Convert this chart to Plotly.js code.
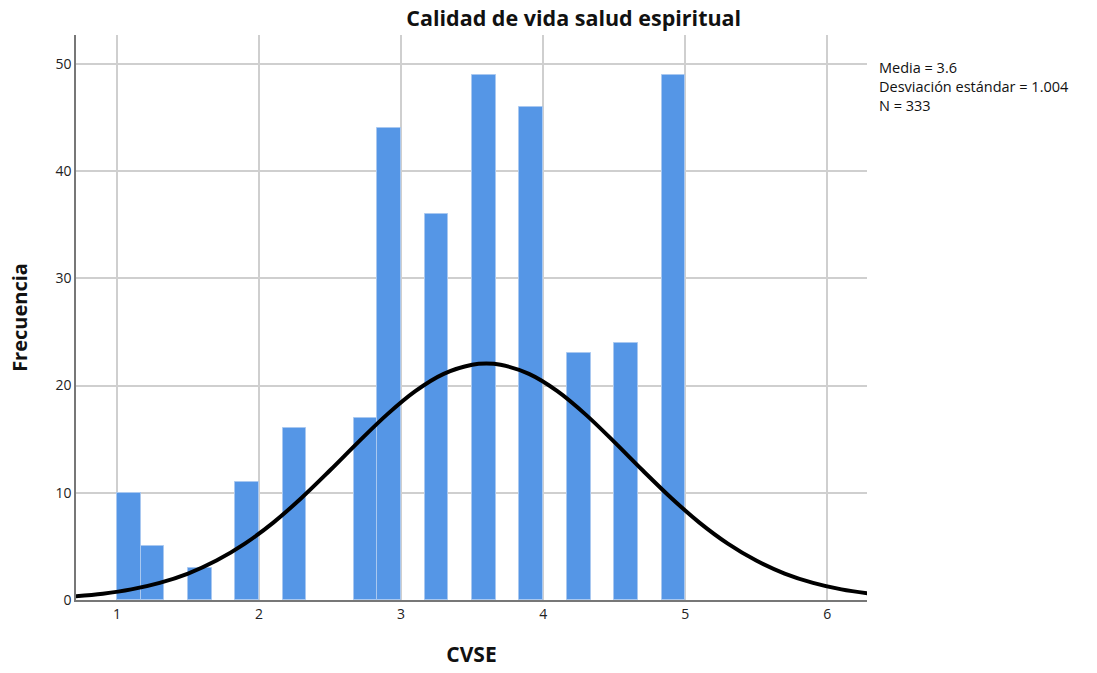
<!DOCTYPE html>
<html><head><meta charset="utf-8">
<script src="https://cdn.plot.ly/plotly-3.0.1.min.js"></script>
<style>html,body{margin:0;padding:0;background:#fff}#chart{width:1097px;height:673px}</style>
</head><body><div id="chart"></div>
<script>
var binStarts = [1.0, 1.1667, 1.5, 1.8333, 2.1667, 2.6667, 2.8333, 3.1667, 3.5, 3.8333, 4.1667, 4.5, 4.8333];
var frequencies = [10, 5, 3, 11, 16, 17, 44, 36, 49, 46, 23, 24, 49];
var binWidth = 0.1667;
var curveX = [0.7,0.9,1.1,1.3,1.5,1.7,1.9,2.1,2.3,2.5,2.7,2.9,3.1,3.3,3.5,3.6,3.7,3.9,4.1,4.3,4.5,4.7,4.9,5.1,5.3,5.5,5.7,5.9,6.1,6.3];
var curveY = [0.34,0.59,0.99,1.6,2.47,3.68,5.26,7.22,9.54,12.1,14.75,17.29,19.48,21.09,21.94,22.05,21.94,21.09,19.48,17.29,14.75,12.1,9.54,7.22,5.26,3.68,2.47,1.6,0.99,0.59];
var statsLines = ["Media = 3.6", "Desviación estándar = 1.004", "N = 333"];
var xTicks = [1,2,3,4,5,6];
var yTicks = [0,10,20,30,40,50];

var centers = binStarts.map(function(s){return s + binWidth/2;});
var traces = [
  {type:'bar', x:centers, y:frequencies, width:binWidth,
   marker:{color:'#5596e6', line:{color:'#a9c8f0', width:1}}, hoverinfo:'x+y'},
  {type:'scatter', mode:'lines', x:curveX, y:curveY,
   line:{color:'#000', width:4, shape:'spline'}, hoverinfo:'skip'}
];
var font = "'Open Sans', 'DejaVu Sans', sans-serif";
var layout = {
  width:1097, height:673, showlegend:false,
  paper_bgcolor:'#fff', plot_bgcolor:'#fff',
  margin:{l:76, r:230, t:35, b:73},
  font:{family:font, color:'#222', size:13},
  title:{text:'<b>Calidad de vida salud espiritual</b>', x:0.523, xanchor:'center', y:0.972, yanchor:'middle',
         font:{family:font, size:21.5, color:'#111'}},
  xaxis:{range:[0.711,6.28], tickvals:xTicks, showgrid:true, gridcolor:'#cfcfcf', gridwidth:1.5,
         zeroline:false, showline:true, linecolor:'#777', linewidth:1.5, ticks:'', ticklen:0,
         tickfont:{size:14, color:'#222'},
         title:{text:'<b>CVSE</b>', font:{size:21, color:'#111'}, standoff:26}},
  yaxis:{range:[0,52.7], tickvals:yTicks, showgrid:true, gridcolor:'#cfcfcf', gridwidth:1.5,
         zeroline:false, showline:true, linecolor:'#777', linewidth:1.5, ticks:'', ticklen:0,
         tickfont:{size:14, color:'#222'},
         title:{text:'<b>Frecuencia</b>', font:{size:20, color:'#111'}, standoff:22}},
  bargap:0,
  annotations:[{xref:'paper', yref:'paper', x:1.013, y:0.908, xanchor:'left', yanchor:'middle', align:'left',
    showarrow:false, text:statsLines.join('<br>'), font:{size:14.5, color:'#111'}}]
};
Plotly.newPlot('chart', traces, layout, {displayModeBar:false});
</script></body></html>
